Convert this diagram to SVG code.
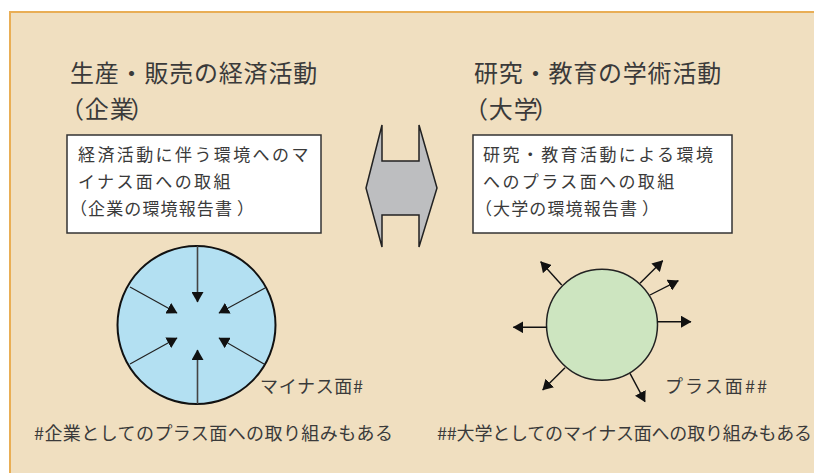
<svg xmlns="http://www.w3.org/2000/svg" width="814" height="473" viewBox="0 0 814 473">
<style>
  text { font-family: "Noto Sans CJK JP", "Noto Sans", sans-serif; fill: #3a3a3a; }
  .title { font-size: 24px; letter-spacing: 0.8px; }
  .box { fill: #fff; stroke: #333; stroke-width: 1.5; }
  .boxt { font-size: 17px; letter-spacing: 2.4px; }
  .boxt2 { font-size: 17px; letter-spacing: 1.1px; }
  .lbl { font-size: 18px; }
  .in { stroke: #444; stroke-width: 1.6; fill: none; }
  .in2 { stroke: #222; stroke-width: 1.2; fill: none; }
  .out { stroke: #111; stroke-width: 1.4; fill: none; }
</style>
<defs>
  <marker id="ah" markerUnits="userSpaceOnUse" markerWidth="11" markerHeight="12" refX="10" refY="6" orient="auto" viewBox="0 0 11 12">
    <path d="M0,0 L10.5,6 L0,12 z" fill="#111"/>
  </marker>
</defs>
<rect x="0" y="0" width="814" height="473" fill="#fff"/>
<rect id="panel" x="10" y="12" width="820" height="480" fill="#F0DFC0" stroke="#E9AE55" stroke-width="2"/>

<g id="title-left">
  <text class="title" x="70" y="82">生産・販売の経済活動</text>
  <text class="title" x="60" y="118" dx="0 0 0 -4.4">（企業）</text>
</g>
<g id="title-right">
  <text class="title" x="474" y="82">研究・教育の学術活動</text>
  <text class="title" x="464" y="118" dx="0 0 0 -4.4">（大学）</text>
</g>

<g id="box-left">
  <rect class="box" x="67" y="135" width="254" height="98"/>
  <text class="boxt" x="78" y="161">経済活動に伴う環境へのマ</text>
  <text class="boxt" x="78" y="188">イナス面への取組</text>
  <text class="boxt2" x="70" y="215" dx="0 0 0 0 0 0 0 0 0 4">（企業の環境報告書）</text>
</g>
<g id="box-right">
  <rect class="box" x="473" y="135" width="259" height="98"/>
  <text class="boxt" x="483" y="161">研究・教育活動による環境</text>
  <text class="boxt" x="483" y="188">へのプラス面への取組</text>
  <text class="boxt2" x="475" y="215" dx="0 0 0 0 0 0 0 0 0 4">（大学の環境報告書）</text>
</g>

<g id="double-arrow">
  <polygon points="382,125 382,161 419,161 419,125 437,188 419,247 419,215 382,215 382,247 366,188" fill="#BDBEC0" stroke="#222" stroke-width="1.5" stroke-linejoin="miter"/>
</g>

<g id="circle-minus">
  <circle cx="196.5" cy="325" r="79" fill="#B3E0F2" stroke="#111" stroke-width="2"/>
</g>
<g id="circle-plus">
  <circle cx="602" cy="324.7" r="55.5" fill="#CDE5C0" stroke="#222" stroke-width="1.5"/>
</g>

<g id="connectors">
  <line class="in" x1="197.5" y1="246" x2="197.5" y2="302" marker-end="url(#ah)"/>
  <line class="in" x1="197.5" y1="404" x2="197.5" y2="350" marker-end="url(#ah)"/>
  <line class="in2" x1="130" y1="287" x2="177" y2="313" marker-end="url(#ah)"/>
  <line class="in2" x1="265" y1="288" x2="219" y2="313" marker-end="url(#ah)"/>
  <line class="in2" x1="130" y1="364" x2="177" y2="338" marker-end="url(#ah)"/>
  <line class="in2" x1="264" y1="364" x2="219" y2="338" marker-end="url(#ah)"/>

  <line class="out" x1="561.7" y1="285" x2="540.7" y2="261.7" marker-end="url(#ah)"/>
  <line class="out" x1="640" y1="283.3" x2="662.7" y2="260.7" marker-end="url(#ah)"/>
  <line class="out" x1="650" y1="295" x2="678.3" y2="280.7" marker-end="url(#ah)"/>
  <line class="out" x1="657.3" y1="321.7" x2="691" y2="321.7" marker-end="url(#ah)"/>
  <line class="out" x1="546.7" y1="327.3" x2="513.3" y2="327.3" marker-end="url(#ah)"/>
  <line class="out" x1="565" y1="367.7" x2="542.7" y2="390" marker-end="url(#ah)"/>
  <line class="out" x1="630" y1="373.3" x2="645" y2="401.7" marker-end="url(#ah)"/>
</g>

<g id="label-minus">
  <text class="lbl" x="260" y="393" textLength="103" lengthAdjust="spacing">マイナス面#</text>
</g>
<g id="label-plus">
  <text class="lbl" x="665" y="393" textLength="102" lengthAdjust="spacing">プラス面##</text>
</g>
<g id="note-left">
  <text class="lbl" x="34" y="440" textLength="359" lengthAdjust="spacing">#企業としてのプラス面への取り組みもある</text>
</g>
<g id="note-right">
  <text class="lbl" x="437" y="440" textLength="375" lengthAdjust="spacing">##大学としてのマイナス面への取り組みもある</text>
</g>
</svg>
